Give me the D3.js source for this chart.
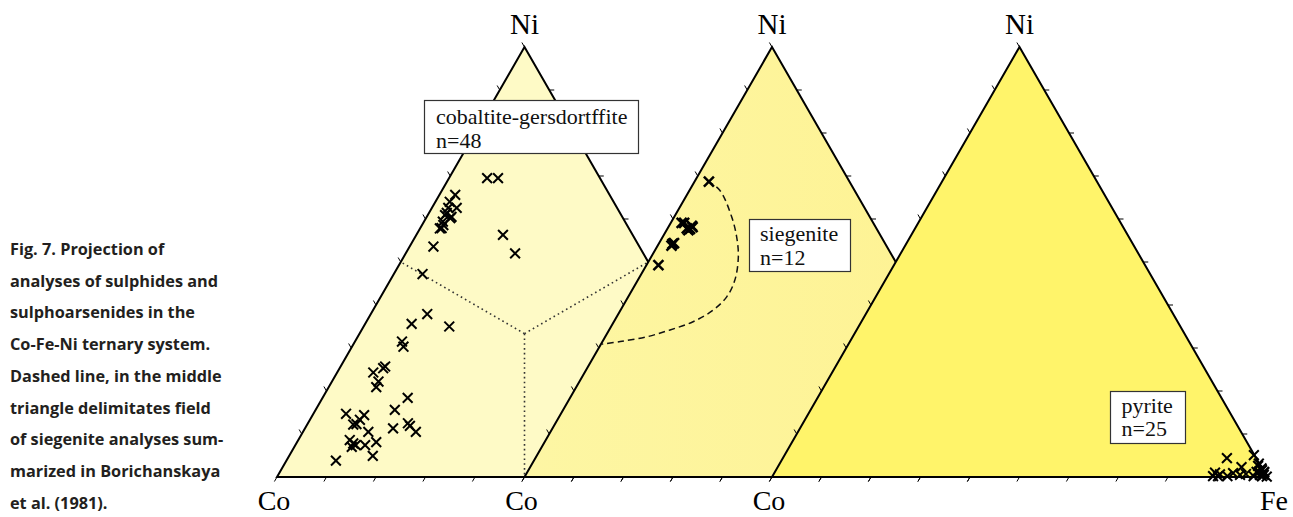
<!DOCTYPE html>
<html><head><meta charset="utf-8">
<script src="https://cdn.jsdelivr.net/npm/d3@7"></script>
<style>body{margin:0;background:#fff} svg{display:block}</style>
</head><body>
<svg id="chart" width="1293" height="517"></svg>
<script>
// ---- data: compositions [Co, Fe, Ni] in at.% ----
const cobaltite = [
 [22.8,7.7,69.5],[20.6,9.9,69.5],[31.2,3.2,65.6],[33.1,2.9,64.0],[32.4,5.0,62.6],[34.1,3.3,62.6],
 [35.0,3.6,61.4],[34.5,5.0,60.5],[36.8,3.8,59.4],[37.8,4.3,57.9],[41.6,4.8,53.6],[26.2,17.5,56.3],
 [25.9,22.1,52.0],[35.6,3.5,60.9],[34.9,4.9,60.2],[37.1,4.3,58.6],[38.2,4.0,57.8],[47.0,5.8,47.2],
 [50.7,11.4,37.9],[55.0,9.4,35.6],[47.7,17.3,35.0],[59.0,9.5,31.5],[59.3,10.4,30.3],[65.3,9.0,25.7],
 [65.9,8.8,25.3],[68.4,7.3,24.3],[68.4,9.4,22.2],[69.5,9.6,20.9],[64.4,17.2,18.4],[68.4,16.0,15.6],
 [78.7,6.6,14.7],[75.2,10.4,14.4],[76.6,10.1,13.3],[77.8,9.9,12.3],[78.5,9.3,12.2],[70.9,17.8,11.3],
 [67.3,20.2,12.5],[67.2,20.9,11.9],[66.7,22.8,10.5],[76.3,13.2,10.5],[81.0,10.4,8.6],[80.7,11.5,7.8],
 [81.4,11.6,7.0],[78.5,14.1,7.4],[75.9,16.0,8.1],[78.2,16.9,4.9],[86.2,10.0,3.8],[80.4,12.2,7.4]
];
const siegenite = [
 [28.4,2.9,68.7],[38.7,2.2,59.1],[38.3,3.9,57.8],[37.0,4.6,58.4],[38.2,4.4,57.4],[37.0,4.9,58.1],
 [43.0,2.8,54.2],[43.4,2.8,53.8],[48.3,2.4,49.3],[38.2,2.7,59.1],[37.7,4.6,57.7],[42.6,3.0,54.4]
];
const pyrite = [
 [5.9,89.7,4.4],[4.0,93.7,2.3],[0.1,94.8,5.1],[10.0,89.0,1.0],[9.2,90.2,0.6],[7.9,91.9,0.2],
 [6.4,92.7,0.9],[3.9,95.4,0.7],[0.1,96.8,3.1],[0.1,97.9,2.0],[0.0,98.8,1.2],[1.2,98.3,0.5],
 [0.0,99.9,0.1],[1.5,97.3,1.2],[0.4,98.8,0.8],[0.5,96.9,2.6],[0.2,98.2,1.6],[0.4,99.1,0.5],
 [1.0,97.8,1.2],[0.9,98.9,0.2],[10.8,89.0,0.2],[9.8,90.0,0.2],[5.2,94.3,0.5],[2.6,97.2,0.2],
 [0.0,98.9,1.1]
];
// field of siegenite analyses (Borichanskaya et al. 1981)
const siegeniteField = [
 [28.6,2.6,68.8],[27.2,6.1,66.7],[27.9,11.6,60.5],[29.2,14.9,55.9],[31.2,17.6,51.2],[34.6,19.6,45.8],
 [38.2,19.9,41.9],[42.5,18.7,38.8],[47.9,16.0,36.1],[53.5,12.3,34.2],[59.0,8.4,32.6],[64.9,3.6,31.5],
 [68.9,0.2,30.9]
];
const dominanceCentre = [33.33,33.33,33.34];
const dominanceEnds = [[50,0,50],[0,50,50],[50,50,0]];
const tickValues = [0,10,20,30,40,50,60,70,80,90,100];
const vertexLabels = ["Co","Fe","Ni"];
const panelLabels = [["cobaltite-gersdortffite","n=48"],["siegenite","n=12"],["pyrite","n=25"]];
const captionLines = ["Fig. 7. Projection of","analyses of sulphides and","sulphoarsenides in the",
 "Co-Fe-Ni ternary system.","Dashed line, in the middle","triangle delimitates field",
 "of siegenite analyses sum-","marized in Borichanskaya","et al. (1981)."];

// ---- layout ----
const svg = d3.select("#chart");
const X0 = 277, W = 495, STEP = 247.5, BASE = 477, TOP = 47;
const yScale = d3.scaleLinear().domain([0,100]).range([BASE, TOP]);
const xScales = [0,1,2].map(i => d3.scaleLinear().domain([0,100]).range([X0+i*STEP, X0+i*STEP+W]));
const proj = (i, d) => [xScales[i](d[1] + d[2]/2), yScale(d[2])];

const defs = svg.append("defs");
const g2 = defs.append("linearGradient").attr("id","g2").attr("x1","0").attr("x2","1").attr("y1","0").attr("y2","0");
g2.append("stop").attr("offset","0").attr("stop-color","#fdf6a4");
g2.append("stop").attr("offset","1").attr("stop-color","#fef290");
const fills = ["#fefac6","url(#g2)","#fff46a"];
const seriesList = [cobaltite, siegenite, pyrite];

const xMark = (s) => `M${-s},${-s}L${s},${s}M${-s},${s}L${s},${-s}`;

[0,1,2].forEach(i => {
  const g = svg.append("g");
  const corners = [[100,0,0],[0,100,0],[0,0,100]].map(d => proj(i,d));
  g.append("polygon").attr("points", corners.map(p=>p.join(",")).join(" ")).attr("fill", fills[i]);
  // ticks
  const tk = g.append("g").attr("stroke","#000").attr("stroke-width",1);
  tickValues.filter(v=>v<100).forEach(v => { // base (Fe)
    const p = proj(i,[100-v,v,0]);
    tk.append("line").attr("x1",p[0]).attr("y1",p[1]).attr("x2",p[0]-2.6).attr("y2",p[1]+4.5);
  });
  tickValues.filter(v=>v>0).forEach(v => { // left (Ni on Co-Ni edge)
    const p = proj(i,[100-v,0,v]);
    tk.append("line").attr("x1",p[0]).attr("y1",p[1]).attr("x2",p[0]-2.6).attr("y2",p[1]-4.5);
  });
  tickValues.filter(v=>v>0 && v<100).forEach(v => { // right (Ni on Fe-Ni edge)
    const p = proj(i,[0,100-v,v]);
    tk.append("line").attr("x1",p[0]).attr("y1",p[1]).attr("x2",p[0]+5).attr("y2",p[1]);
  });
  if (i === 0) {
    const c = proj(0, dominanceCentre);
    dominanceEnds.forEach(e => {
      const p = proj(0, e);
      g.append("line").attr("x1",c[0]).attr("y1",c[1]).attr("x2",p[0]).attr("y2",p[1])
        .attr("stroke","#333").attr("stroke-width",1.6).attr("stroke-dasharray","1.6 3.2");
    });
  }
  if (i === 1) {
    const line = d3.line().x(d=>proj(1,d)[0]).y(d=>proj(1,d)[1]).curve(d3.curveCatmullRom);
    g.append("path").attr("d", line(siegeniteField)).attr("fill","none")
      .attr("stroke","#111").attr("stroke-width",1.5).attr("stroke-dasharray","6.5 4");
  }
  g.append("polygon").attr("points", corners.map(p=>p.join(",")).join(" "))
    .attr("fill","none").attr("stroke","#000").attr("stroke-width",2).attr("stroke-linejoin","miter");
  g.append("g").selectAll("path").data(seriesList[i]).join("path")
    .attr("transform", d => `translate(${proj(i,d)[0]},${proj(i,d)[1]})`)
    .attr("d", xMark(i===1?5:4.9)).attr("fill","none").attr("stroke","#000")
    .attr("stroke-width", i===1?2.5:2.0);
});

// vertex labels
const serif = "'Liberation Serif','Times New Roman',serif";
[0,1,2].forEach(i => {
  const apex = proj(i,[0,0,100]);
  svg.append("text").attr("x",apex[0]).attr("y",34).attr("text-anchor","middle")
    .attr("font-family",serif).attr("font-size",29).text(vertexLabels[2]);
  const left = proj(i,[100,0,0]);
  svg.append("text").attr("x",left[0]-3).attr("y",510).attr("text-anchor","middle")
    .attr("font-family",serif).attr("font-size",28).text(vertexLabels[0]);
});
const feV = proj(2,[0,100,0]);
svg.append("text").attr("x",feV[0]+7).attr("y",510).attr("text-anchor","middle")
  .attr("font-family",serif).attr("font-size",28).text(vertexLabels[1]);

// label boxes
const boxes = [
  {x:424.5,y:100.5,w:214,h:53,tx:436,ty:[123.5,148]},
  {x:749.5,y:219.5,w:101,h:52,tx:760,ty:[241,265]},
  {x:1110.5,y:391.5,w:75,h:52,tx:1121.5,ty:[413,436]}
];
boxes.forEach((b,i) => {
  svg.append("rect").attr("x",b.x).attr("y",b.y).attr("width",b.w).attr("height",b.h)
    .attr("fill","#fff").attr("stroke","#333").attr("stroke-width",1.2);
  panelLabels[i].forEach((t,j) => {
    svg.append("text").attr("x",b.tx).attr("y",b.ty[j]).attr("font-family",serif)
      .attr("font-size",22).attr("fill","#111").text(t);
  });
});

// caption
captionLines.forEach((t,j) => {
  svg.append("text").attr("x",10).attr("y",255 + j*31.7)
    .attr("font-family","'Open Sans',sans-serif").attr("font-weight",700)
    .attr("font-size",16.3).attr("fill","#231f20").text(t);
});
</script>
</body></html>
